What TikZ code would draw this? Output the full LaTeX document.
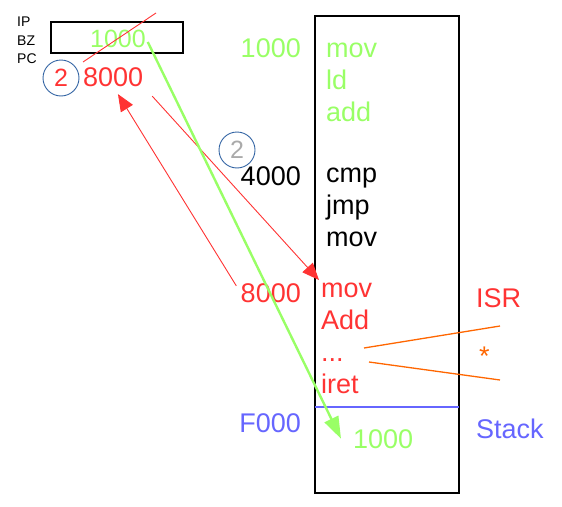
\documentclass[tikz,border=0pt]{standalone}
\usepackage{fontspec}
\setmainfont{Liberation Sans}
\usetikzlibrary{arrows.meta}

\definecolor{opgreen}{RGB}{153,255,102}
\definecolor{opred}{RGB}{255,51,51}
\definecolor{stackblue}{RGB}{102,102,255}
\definecolor{isrorange}{RGB}{255,102,0}
\definecolor{ringblue}{RGB}{52,101,164}
\definecolor{digitgray}{RGB}{170,170,170}

\begin{document}
\begin{tikzpicture}[x=1pt,y=-1pt,
        every node/.style={font=\fontsize{27}{32}\selectfont, inner sep=0pt},
        reg label/.style={font=\fontsize{14}{16}\selectfont, anchor=base west},
        op/.style={anchor=base west},
        addr/.style={anchor=base east},
        badge/.style={circle, draw=ringblue, line width=0.9pt, minimum size=36pt,
                      font=\fontsize{25}{30}\selectfont},
        red arrow/.style={-{Triangle[length=17pt,width=14pt]}, opred, line width=0.9pt},
        green arrow/.style={-{Triangle[length=22pt,width=15pt]}, opgreen, line width=2.4pt}]

        \useasboundingbox (0,0) rectangle (562,506);

        % Register labels and IP box
        \node[reg label] (ipl) at (17,27) {IP};
        \node[reg label] (bzl) at (17,45) {BZ};
        \node[reg label] (pcl) at (17,63) {PC};
        \node[draw, line width=1.2pt, minimum width=132pt, minimum height=31pt] (ipreg) at (117,37.5) {};
        \node[anchor=base, opgreen, font=\fontsize{25}{30}\selectfont] (ipval) at (118,47) {1000};
        \node[op, opred] (pcval) at (83,86) {8000};
        \node[badge, text=opred] (twoa) at (61,78) {2};
        \node[badge, text=digitgray] (twob) at (237,150) {2};

        % Memory
        \node[draw, line width=1.2pt, minimum width=144pt, minimum height=477pt] (mem) at (387,254.5) {};
        \coordinate (sl) at (315,407);
        \coordinate (sr) at (459,407);
        \draw[stackblue, line width=2.4pt] (sl) -- (sr);

        % Addresses
        \node[addr, opgreen] (a1000) at (301,57) {1000};
        \node[addr] (a4000) at (301,185) {4000};
        \node[addr, opred] (a8000) at (301,302) {8000};
        \node[addr, stackblue] (af000) at (301,432) {F000};

        % Code
        \foreach \t [count=\i] in {mov,ld,add}
            \node[op, opgreen] (m\i) at (326,25+32*\i) {\t};
        \foreach \t [count=\i] in {cmp,jmp,mov}
            \node[op] (j\i) at (326,150+32*\i) {\t};
        \node[op, opred] (r1) at (321,297) {mov};
        \node[op, opred] (r2) at (321,329) {Add};
        \node[op, opred] (r3) at (321,361) {...};
        \node[op, opred] (r4) at (321,393) {iret};
        \node[op, opgreen] (sval) at (353,448) {1000};

        % Right labels
        \node[op, opred] (isr) at (476,307) {ISR};
        \node[op, isrorange] (star) at (479,365) {*};
        \node[op, stackblue] (stack) at (476,438) {Stack};

        % Orange brackets
        \coordinate (o1) at (364,348);
        \coordinate (o2) at (500,326);
        \coordinate (o3) at (369,362);
        \coordinate (o4) at (500,380);
        \draw[isrorange, line width=1.3pt] (o1) -- (o2) (o3) -- (o4);

        % Crossed out IP
        \coordinate (x1) at (83,62);
        \coordinate (x2) at (156,13);
        \draw[opred, line width=0.9pt] (x1) -- (x2);

        % Arrows
        \draw[red arrow, shorten <=8pt, shorten >=9pt] (a8000.west) -- (pcval.south);
        \draw[red arrow, shorten <=13pt, shorten >=3pt] (pcval.south east) -- (r1.north west);
        \draw[green arrow, shorten <=4pt] (ipval.east) -- ([xshift=-12pt]sval.west);

\end{tikzpicture}
\end{document}
